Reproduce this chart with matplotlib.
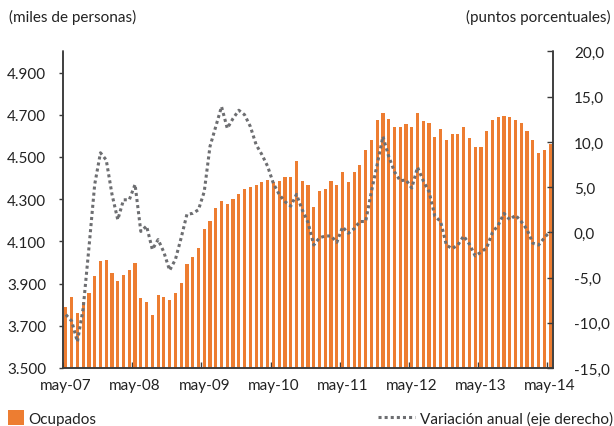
import matplotlib
matplotlib.use('Agg')
import matplotlib.pyplot as plt
import numpy as np
from matplotlib.lines import Line2D
from matplotlib.patches import Patch

plt.rcParams['font.family'] = ['Lato', 'DejaVu Sans']

# monthly data, may-07 .. may-14
ocupados = [
    3790, 3838, 3762, 3815, 3855, 3937, 4005, 4011, 3950, 3910, 3943, 3964,
    3997, 3830, 3815, 3749, 3844, 3836, 3822, 3855, 3902, 3991, 4024, 4071,
    4158, 4199, 4259, 4292, 4279, 4300, 4327, 4347, 4360, 4366, 4380, 4393,
    4380, 4387, 4407, 4407, 4481, 4387, 4366, 4265, 4339, 4347, 4387, 4368,
    4428, 4380, 4428, 4461, 4533, 4581, 4675, 4708, 4682, 4641, 4641, 4655,
    4641, 4708, 4669, 4661, 4593, 4634, 4581, 4607, 4607, 4641, 4589, 4547,
    4547, 4622, 4675, 4688, 4696, 4688, 4675, 4661, 4622, 4581, 4521, 4533,
    4562,
]
variacion = [
    -9.1, -9.8, -12.1, -8.4, -1.7, 5.3, 8.8, 8.0, 4.2, 1.4, 3.6, 3.6,
    5.3, 0.1, 0.7, -1.9, -0.8, -2.2, -4.2, -3.0, -0.6, 2.0, 2.1, 2.5,
    4.5, 9.5, 11.7, 13.9, 11.5, 12.6, 13.5, 13.0, 11.7, 9.7, 8.6, 7.3,
    5.4, 4.2, 3.4, 2.9, 4.2, 2.5, 1.1, -1.4, -0.6, -0.4, -0.4, -1.1,
    0.6, -0.1, 0.4, 1.2, 1.2, 4.5, 7.5, 10.6, 8.4, 6.7, 5.7, 5.8,
    4.9, 7.2, 5.7, 4.5, 1.8, 1.2, -1.4, -1.8, -1.4, -0.4, -1.3, -2.6,
    -2.2, -1.7, 0.0, 0.8, 2.1, 1.4, 1.9, 1.2, 0.3, -1.2, -1.4, -0.6,
    0.1,
]
year_labels = ['may-07', 'may-08', 'may-09', 'may-10', 'may-11', 'may-12', 'may-13', 'may-14']
left_ticks = [3500, 3700, 3900, 4100, 4300, 4500, 4700, 4900]
right_ticks = [-15, -10, -5, 0, 5, 10, 15, 20]

orange = '#ED7D31'
gray = '#6D6E71'
axis_col = '#3a3a3a'

fig = plt.figure(figsize=(6.14, 4.27), dpi=100)
ax = fig.add_axes([63 / 614, 1 - 369 / 427, 490 / 614, (369 - 52.5) / 427])
ax2 = ax.twinx()

x = np.arange(len(ocupados))
ax.bar(x, ocupados, width=0.55, color=orange, edgecolor='none', zorder=2)
ax.set_ylim(3500, 5000)
ax.set_xlim(-0.5, len(ocupados) - 0.5)
ax.set_yticks(left_ticks)
ax.set_yticklabels([f'{v:,}'.replace(',', '.') for v in left_ticks])

ax2.plot(x, variacion, color=gray, lw=2.2, linestyle=(0, (1, 1)),
         dash_capstyle='butt', zorder=3)
ax2.set_ylim(-15, 20)
ax2.set_yticks(right_ticks)
ax2.set_yticklabels([f'{v:.1f}'.replace('.', ',') for v in right_ticks])

# year ticks at slot boundaries, labels centred on the May bars
starts = x[::12]
ax.set_xticks(starts - 0.5)
ax.set_xticklabels([])
ax.set_xticks(starts, year_labels, minor=True)
ax.tick_params(axis='x', which='major', direction='in', length=4, width=1, color=axis_col)
ax.tick_params(axis='x', which='minor', length=0, pad=7, labelsize=11, labelcolor='#222222')
ax.tick_params(axis='y', direction='out', length=3, width=1, pad=9,
               labelsize=11, labelcolor='#222222', color=axis_col)
ax2.tick_params(axis='y', direction='in', length=4, width=1, pad=15,
                labelsize=11, labelcolor='#222222', color=axis_col)

for a in (ax, ax2):
    a.spines['top'].set_visible(False)
    for s in ('left', 'right', 'bottom'):
        a.spines[s].set_color(axis_col)
        a.spines[s].set_linewidth(1.1)

fig.text(9 / 614, 1 - 17 / 427, '(miles de personas)', fontsize=11,
         color='#222222', ha='left', va='center')
fig.text(611 / 614, 1 - 17 / 427, '(puntos porcentuales)', fontsize=11,
         color='#222222', ha='right', va='center')

leg1 = fig.legend(handles=[Patch(facecolor=orange, edgecolor='none', label='Ocupados')],
                  loc='center left', bbox_to_anchor=(8 / 614, 1 - 419 / 427),
                  frameon=False, fontsize=11, handlelength=1.05, handleheight=1.05,
                  handletextpad=0.3, borderpad=0, borderaxespad=0)
leg2 = fig.legend(handles=[Line2D([], [], color=gray, lw=2.2, linestyle=(0, (1, 1)),
                                  dash_capstyle='butt',
                                  label='Variación anual (eje derecho)')],
                  loc='center right', bbox_to_anchor=(613 / 614, 1 - 419 / 427),
                  frameon=False, fontsize=11, handlelength=2.4,
                  handletextpad=0.35, borderpad=0, borderaxespad=0)
for leg in (leg1, leg2):
    for t in leg.get_texts():
        t.set_color('#222222')

fig.savefig('out.png', dpi=100)
